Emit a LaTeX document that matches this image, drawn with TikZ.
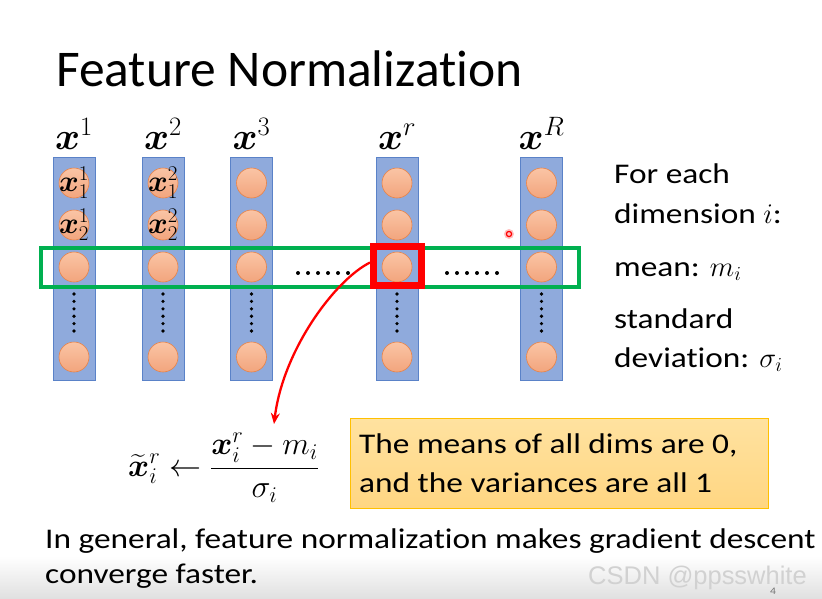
\documentclass[tikz,border=0pt]{standalone}
\usepackage{fix-cm}
\usepackage{amsmath}
\usepackage{fontspec}
\setmainfont{Carlito}[Ligatures={TeX,NoCommon},FakeStretch=1.17]
\newfontfamily\titlefont{Carlito}[Ligatures={TeX,NoCommon}]
\newfontfamily\wmfont{Liberation Sans}
\usetikzlibrary{arrows.meta}
\definecolor{colfill}{RGB}{143,170,220}
\definecolor{colline}{RGB}{90,130,200}
\definecolor{circtop}{RGB}{250,196,165}
\definecolor{circbot}{RGB}{242,165,125}
\definecolor{circline}{RGB}{232,130,70}
\definecolor{grn}{RGB}{0,176,80}
\definecolor{yfillt}{RGB}{255,226,160}
\definecolor{yfillb}{RGB}{255,214,130}
\definecolor{yline}{RGB}{255,192,0}
\tikzset{
  colbox/.style={draw=colline,line width=0.8pt,fill=colfill,minimum width=42pt,minimum height=223pt,inner sep=0pt},
  ball/.style={circle,draw=circline,line width=0.6pt,top color=circtop,bottom color=circbot,minimum size=30pt,inner sep=0pt},
  toplabel/.style={anchor=base,inner sep=0pt,font=\fontsize{38}{44}\selectfont},
  sidetext/.style={anchor=base west,inner sep=0pt,font=\fontsize{28.5}{34}\selectfont},
  bodytext/.style={anchor=base west,inner sep=0pt,font=\fontsize{28.5}{34}\selectfont},
  balltext/.style={inner sep=0pt,font=\fontsize{30}{34}\selectfont}
}
\begin{document}
\begin{tikzpicture}[x=1pt,y=-1pt]
\useasboundingbox (0,0) rectangle (822,598);
\shade[top color=white,bottom color=black!12] (0,556) rectangle (822,598);
% title
\node[anchor=base west,inner sep=0pt,font=\titlefont\fontsize{51.5}{60}\selectfont] (title) at (56,86) {Feature Normalization};
% columns
\foreach \n/\x in {1/74,2/163,3/251.5,4/397,5/541.5}{
  \node[colbox] (col\n) at (\x,268.5) {};
  \node[ball] (b\n a) at (\x,183) {};
  \node[ball] (b\n b) at (\x,225) {};
  \node[ball] (b\n c) at (\x,267) {};
  \node[ball] (b\n d) at (\x,357) {};
  \foreach \k in {0,...,5}{\fill (\x,294+7.4*\k) circle (1.8pt);}
}
\node[toplabel] (l1) at (74,149) {$\boldsymbol{x}^{1}$};
\node[toplabel] (l2) at (163,149) {$\boldsymbol{x}^{2}$};
\node[toplabel] (l3) at (251.5,149) {$\boldsymbol{x}^{3}$};
\node[toplabel] (l4) at (397,149) {$\boldsymbol{x}^{r}$};
\node[toplabel] (l5) at (541.5,149) {$\boldsymbol{x}^{R}$};
\node[balltext] at (b1a) {$\boldsymbol{x}_1^1$};
\node[balltext] at (b1b) {$\boldsymbol{x}_2^1$};
\node[balltext] at (b2a) {$\boldsymbol{x}_1^2$};
\node[balltext] at (b2b) {$\boldsymbol{x}_2^2$};
% horizontal dots
\foreach \k in {0,...,5}{\fill (298+10*\k,273) circle (2pt);}
\foreach \k in {0,...,5}{\fill (447+10*\k,273) circle (2pt);}
% green rectangle
\node[draw=grn,line width=4pt,minimum width=538pt,minimum height=39pt,inner sep=0pt] (grect) at (310,267.5) {};
% red square
\node[draw=red,line width=7pt,minimum width=48pt,minimum height=39pt,inner sep=0pt] (rbox) at (397.5,266) {};
% laser dot
\fill[red!25] (509,234) circle (5pt);
\draw[red,line width=1.2pt] (509,234) circle (2.6pt);
% formula
\node[anchor=base west,inner sep=0pt,font=\fontsize{32}{38}\selectfont] (formula) at (128,476)
  {$\widetilde{\boldsymbol{x}}_i^r \leftarrow \dfrac{\boldsymbol{x}_i^r - m_i}{\sigma_i}$};
\coordinate (tip) at (274,424);
\draw[red,line width=2.3pt,-{Stealth[length=11pt,width=9pt]}] ([yshift=3.5pt]rbox.west) .. controls (335,280) and (283,350) .. (tip);
% right texts
\node[sidetext] (t1) at (614,183) {For each};
\node[sidetext] (t2) at (614,223) {dimension $i$:};
\node[sidetext] (t3) at (614,276) {mean: $m_i$};
\node[sidetext] (t4) at (614,328) {standard};
\node[sidetext] (t5) at (614,367) {deviation: $\sigma_i$};
% yellow box
\node[draw=yline,line width=0.8pt,top color=yfillt,bottom color=yfillb,minimum width=418pt,minimum height=90pt,inner sep=0pt] (ybox) at (559,463) {};
\node[bodytext] (y1) at (359,453) {The means of all dims are 0,};
\node[bodytext] (y2) at (359,492) {and the variances are all 1};
% bottom text
\node[bodytext] (bt1) at (45,548) {In general, feature normalization makes gradient descent};
\node[bodytext] (bt2) at (45,583) {converge faster.};
% watermark and page number
\node[anchor=base west,inner sep=0pt,text=black!18,font=\wmfont\fontsize{25.5}{28}\selectfont] (wm) at (588,584) {CSDN @ppsswhite};
\node[anchor=base,inner sep=0pt,text=black!55,font=\fontsize{10}{12}\selectfont] (pg) at (773,594) {4};
\end{tikzpicture}
\end{document}
